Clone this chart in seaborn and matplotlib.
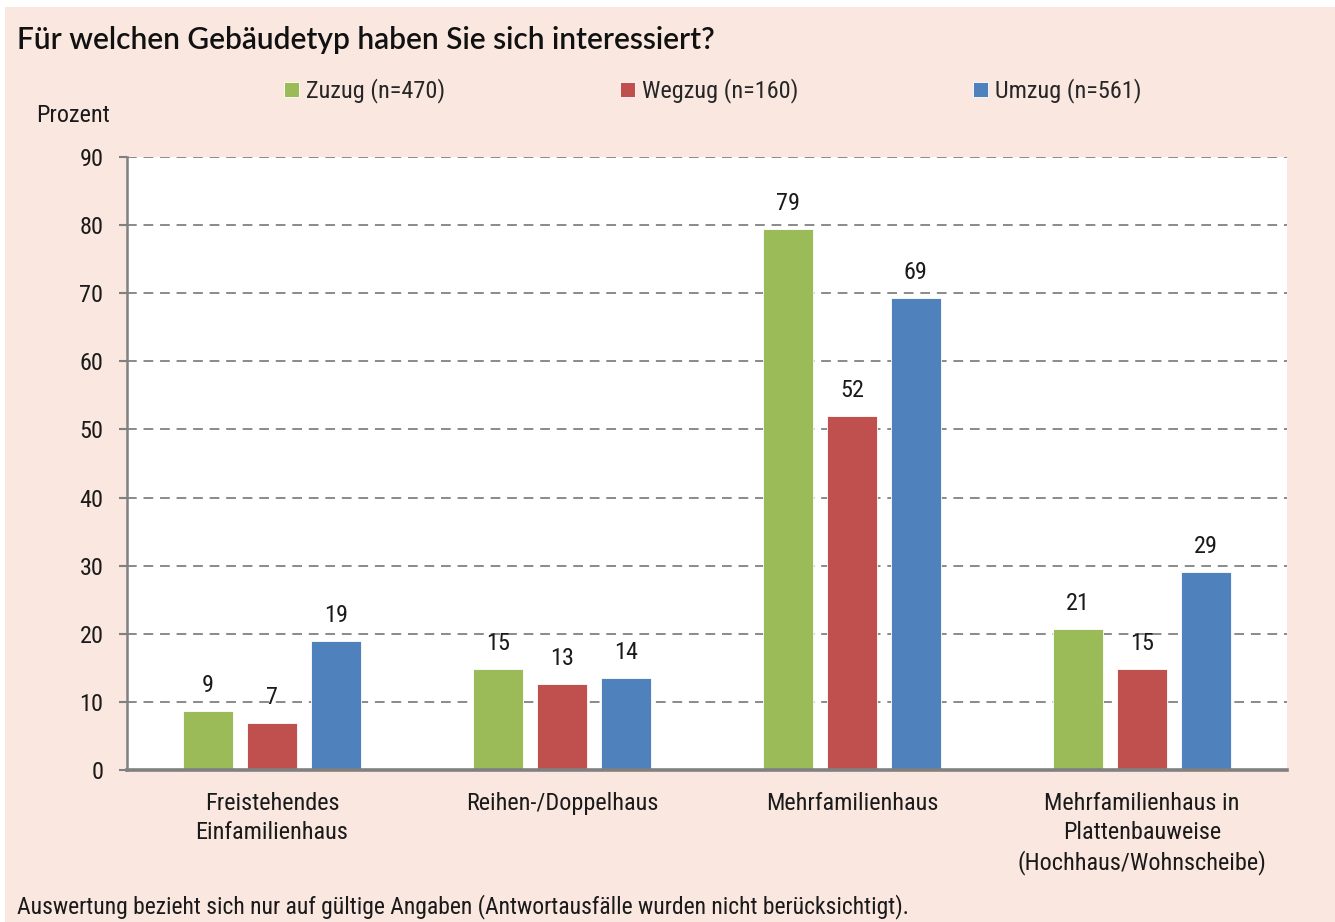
import matplotlib
matplotlib.use("Agg")
import matplotlib.pyplot as plt
import seaborn as sns
import pandas as pd
from matplotlib.patches import Rectangle
from matplotlib import font_manager

categories = ["Freistehendes\nEinfamilienhaus", "Reihen-/Doppelhaus", "Mehrfamilienhaus",
              "Mehrfamilienhaus in\nPlattenbauweise\n(Hochhaus/Wohnscheibe)"]
series = ["Zuzug (n=470)", "Wegzug (n=160)", "Umzug (n=561)"]
zuzug = [8.7, 14.8, 79.4, 20.7]
wegzug = [6.9, 12.6, 52.0, 14.8]
umzug = [18.9, 13.5, 69.3, 29.1]
zuzug_labels = ["9", "15", "79", "21"]
wegzug_labels = ["7", "13", "52", "15"]
umzug_labels = ["19", "14", "69", "29"]
yticks = [0, 10, 20, 30, 40, 50, 60, 70, 80, 90]
colors = ["#9BBB59", "#C0504D", "#4F81BD"]

def pick(names):
    for n in names:
        try:
            font_manager.findfont(font_manager.FontProperties(family=n), fallback_to_default=False)
            return n
        except Exception:
            pass
    return "DejaVu Sans"

sns.set_style("white")
body_font = pick(["Liberation Sans Narrow", "Roboto Condensed", "Liberation Sans"])
title_font = pick(["Lato", "Open Sans", "DejaVu Sans"])
plt.rcParams["font.family"] = [body_font, "DejaVu Sans"]

FS = 17.5
TXT = "#1a1a1a"

rows = []
for vals, s in zip([zuzug, wegzug, umzug], series):
    for c, v in zip(categories, vals):
        rows.append({"Gebäudetyp": c, "Prozent": v, "Serie": s})
df = pd.DataFrame(rows)

fig = plt.figure(figsize=(13.35, 9.22), dpi=100, facecolor="white")
fig.patches.append(Rectangle((5 / 1335, 0), 1 - 5 / 1335, 1 - 7 / 922, transform=fig.transFigure,
                             facecolor="#F9E7E0", edgecolor="none", zorder=-10))
ax = fig.add_axes([127 / 1335, 1 - 770 / 922, (1287 - 127) / 1335, (770 - 157) / 922])
ax.set_facecolor("white")

sns.barplot(data=df, x="Gebäudetyp", y="Prozent", hue="Serie", order=categories, hue_order=series,
            palette=colors, saturation=1, width=0.66, gap=0.22, edgecolor="white", linewidth=0.6,
            ax=ax, zorder=3)

for cont, labs in zip(ax.containers, [zuzug_labels, wegzug_labels, umzug_labels]):
    ax.bar_label(cont, labels=labs, padding=10, fontsize=FS, color=TXT)

ax.set_ylim(0, 90)
ax.set_xlim(-0.5, 3.5)
ax.set_yticks(yticks)
ax.set_yticklabels([str(t) for t in yticks], fontsize=FS, color=TXT)
ax.tick_params(axis="y", length=6, width=1.5, color="#808080", pad=11, left=True)
ax.tick_params(axis="x", length=0, pad=16, labelsize=FS, labelcolor=TXT)
for lab in ax.get_xticklabels():
    lab.set_linespacing(1.33)
ax.set_xlabel("")
ax.set_ylabel("")
ax.yaxis.grid(True, linestyle=(0, (5, 3.5)), color="#8a8a8a", linewidth=1.4, zorder=0)
ax.set_axisbelow(True)
for s in ["top", "right"]:
    ax.spines[s].set_visible(False)
ax.spines["left"].set_color("#808080")
ax.spines["left"].set_linewidth(1.8)
ax.spines["bottom"].set_color("#808080")
ax.spines["bottom"].set_linewidth(2.6)
ax.spines["bottom"].set_zorder(5)

handles, labels = ax.get_legend_handles_labels()
ax.get_legend().remove()
fig.legend(handles, labels, ncol=3, loc="center left", bbox_to_anchor=(284 / 1335, 1 - 91 / 922),
           frameon=False, fontsize=FS, handlelength=0.6, handleheight=0.6, handletextpad=0.3,
           columnspacing=7.2, borderpad=0, borderaxespad=0)

fig.text(17 / 1335, 1 - 40 / 922, "Für welchen Gebäudetyp haben Sie sich interessiert?",
         fontsize=21.5, fontweight="semibold", family=[title_font, "DejaVu Sans"], ha="left", va="center",
         color="#111111")
fig.text(36 / 1335, 1 - 115 / 922, "Prozent", fontsize=FS, ha="left", va="center", color=TXT)
fig.text(17 / 1335, 3 / 922,
         "Auswertung bezieht sich nur auf gültige Angaben (Antwortausfälle wurden nicht berücksichtigt).",
         fontsize=17, ha="left", va="bottom", color=TXT)

fig.savefig("out.png", dpi=100, facecolor="white")
